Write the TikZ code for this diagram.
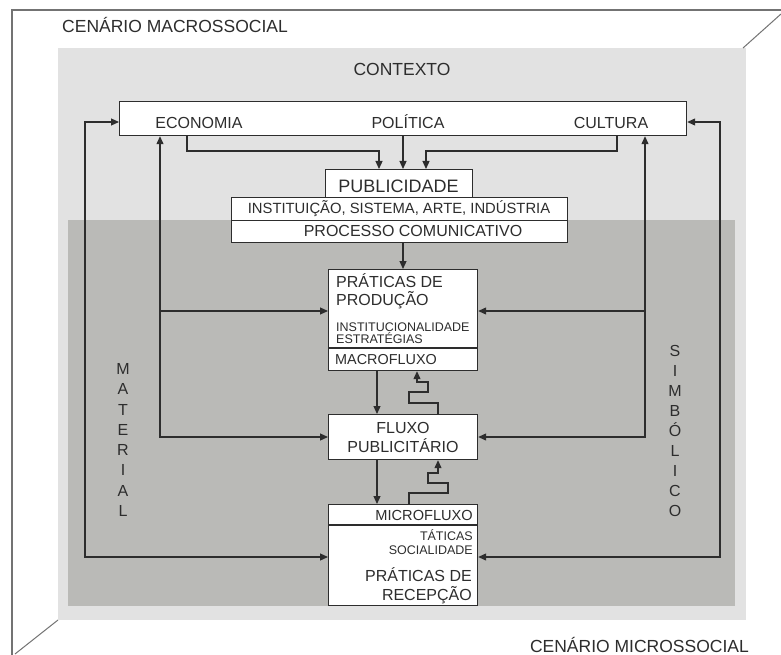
\documentclass[tikz,border=0pt]{standalone}
\usepackage{fontspec}
\setmainfont{Liberation Sans}
\usetikzlibrary{arrows.meta}
\definecolor{panelLight}{RGB}{226,226,226}
\definecolor{panelDark}{RGB}{186,186,183}
\definecolor{ink}{RGB}{45,45,45}
\definecolor{frameline}{RGB}{115,115,115}
\begin{document}
\begin{tikzpicture}[x=1pt,y=-1pt,
  every node/.style={inner sep=0pt, text=ink},
  box/.style={draw=ink, line width=1.2pt, fill=white, anchor=north west, inner sep=0pt},
  conn/.style={draw=ink, line width=1.2pt},
  arr/.style={conn, -{Triangle[length=8pt,width=7pt]}},
  dblarr/.style={conn, {Triangle[length=8pt,width=7pt]}-{Triangle[length=8pt,width=7pt]}},
  fs/.style={font=\fontsize{#1}{#1}\selectfont},
]
% canvas
\useasboundingbox (0,0) rectangle (781,655);
\fill[white] (0,0) rectangle (781,655);

% panels: context and the inner (symbolic/material) field
\fill[panelLight] (58,48) rectangle (746,620);
\fill[panelDark] (68,220) rectangle (735,606);

% open frame of the macro/micro scene
\draw[frameline, line width=1.2pt] (12,655) -- (12,10) -- (781,10);
\draw[frameline, line width=1pt] (743,48) -- (781,14);
\draw[frameline, line width=1pt] (15,654) -- (58,620);

% boxes
\node[box, minimum width=567pt, minimum height=34pt] (bar) at (119,101) {};
\node[box, minimum width=147pt, minimum height=28pt] (publ) at (325,169) {};
\node[box, minimum width=336pt, minimum height=23pt] (inst) at (231,197) {};
\node[box, minimum width=336pt, minimum height=22pt] (proc) at (231,220) {};
\node[box, minimum width=149pt, minimum height=101pt] (prod) at (328,269) {};
\node[box, minimum width=149pt, minimum height=45pt] (fluxo) at (328,414) {};
\node[box, minimum width=149pt, minimum height=101pt] (recep) at (328,504) {};

% dividers inside the production and reception boxes
\coordinate (dv1) at (0,348);
\coordinate (dv2) at (0,525);
\draw[conn] (prod.west |- dv1) -- (prod.east |- dv1);
\draw[conn] (recep.west |- dv2) -- (recep.east |- dv2);

% routing points
\coordinate (ecoD) at (187,151);
\coordinate (culD) at (617,151);
\coordinate (pubL) at (379,151);
\coordinate (pubM) at (403,151);
\coordinate (pubR) at (426,151);
\coordinate (dn) at (377,0);
\coordinate (oL) at (85,122);
\coordinate (oLb) at (85,557);
\coordinate (oR) at (720,122);
\coordinate (oRb) at (720,557);
\coordinate (iL) at (160,437);
\coordinate (iLm) at (160,311);
\coordinate (iR) at (645,437);
\coordinate (iRm) at (645,311);

% context to advertising
\draw[arr] (bar.south -| ecoD) -- (ecoD) -- (pubL) -- (publ.north -| pubL);
\draw[arr] (bar.south -| pubM) -- (publ.north -| pubM);
\draw[arr] (bar.south -| culD) -- (culD) -- (pubR) -- (publ.north -| pubR);
\draw[arr] (proc.south -| pubM) -- (prod.north -| pubM);

% main flow downwards
\draw[arr] (prod.south -| dn) -- (fluxo.north -| dn);
\draw[arr] (fluxo.south -| dn) -- (recep.north -| dn);

% outer loops
\draw[dblarr] (bar.west |- oL) -- (oL) -- (oLb) -- (recep.west |- oLb);
\draw[dblarr] (bar.east |- oR) -- (oR) -- (oRb) -- (recep.east |- oRb);

% inner loops
\draw[dblarr] (bar.south -| iL) -- (iL) -- (fluxo.west |- iL);
\draw[arr] (iLm) -- (prod.west |- iLm);
\draw[dblarr] (bar.south -| iR) -- (iR) -- (fluxo.east |- iR);
\draw[arr] (iRm) -- (prod.east |- iRm);

% stepped feedback: macroflow
\coordinate (ma1) at (438,403);
\coordinate (ma2) at (409,403);
\coordinate (ma3) at (409,392);
\coordinate (ma4) at (428,392);
\coordinate (ma5) at (428,382);
\coordinate (ma6) at (417,382);
\draw[arr] (fluxo.north -| ma1) -- (ma1) -- (ma2) -- (ma3) -- (ma4) -- (ma5) -- (ma6) -- (prod.south -| ma6);

% stepped feedback: microflow
\coordinate (mi1) at (409,493);
\coordinate (mi2) at (448,493);
\coordinate (mi3) at (448,483);
\coordinate (mi4) at (428,483);
\coordinate (mi5) at (428,473);
\coordinate (mi6) at (438,473);
\draw[arr] (recep.north -| mi1) -- (mi1) -- (mi2) -- (mi3) -- (mi4) -- (mi5) -- (mi6) -- (fluxo.south -| mi6);

% scene titles
\node[fs=17.5, anchor=base west] (macro) at (62,33) {CENÁRIO MACROSSOCIAL};
\node[fs=17.5, anchor=base] (ctx) at (402,76) {CONTEXTO};
\node[fs=17.5, anchor=base east] (micro) at (749,652) {CENÁRIO MICROSSOCIAL};

% context bar
\node[fs=16, anchor=base] (eco) at (199,128.7) {ECONOMIA};
\node[fs=16, anchor=base] (pol) at (408,128.7) {POLÍTICA};
\node[fs=16, anchor=base] (cul) at (611,128.7) {CULTURA};

% advertising block
\node[fs=18, anchor=base] (publT) at (398.5,193) {PUBLICIDADE};
\node[fs=14.8, anchor=base] (instT) at (399,213.8) {INSTITUIÇÃO, SISTEMA, ARTE, INDÚSTRIA};
\node[fs=16, anchor=base] (procT) at (413,236.3) {PROCESSO COMUNICATIVO};

% production practices
\node[fs=16, anchor=base west] (prodT1) at (336,287.3) {PRÁTICAS DE};
\node[fs=16, anchor=base west] (prodT2) at (336,305.7) {PRODUÇÃO};
\node[fs=12.5, anchor=base west] (prodT3) at (336,331) {INSTITUCIONALIDADE};
\node[fs=12.5, anchor=base west] (prodT4) at (336,343.3) {ESTRATÉGIAS};
\node[fs=14.4, anchor=base west] (prodT5) at (335,364) {MACROFLUXO};

% advertising flow
\node[fs=16, anchor=base] (fluxoT1) at (403,433.3) {FLUXO};
\node[fs=16, anchor=base] (fluxoT2) at (403,452.3) {PUBLICITÁRIO};

% reception practices
\node[fs=14.6, anchor=base east] (recT1) at (473,520) {MICROFLUXO};
\node[fs=12.5, anchor=base east] (recT2) at (473,540.7) {TÁTICAS};
\node[fs=12.5, anchor=base east] (recT3) at (473,554) {SOCIALIDADE};
\node[fs=16, anchor=base east] (recT4) at (472,581.7) {PRÁTICAS DE};
\node[fs=16, anchor=base east] (recT5) at (472,600) {RECEPÇÃO};

% vertical labels
\node[font=\fontsize{16}{20.3}\selectfont, align=center] (mat) at (123,440) {M\\A\\T\\E\\R\\I\\A\\L};
\node[font=\fontsize{16}{20}\selectfont, align=center] (simb) at (675,431) {S\\I\\M\\B\\Ó\\L\\I\\C\\O};
\end{tikzpicture}
\end{document}
